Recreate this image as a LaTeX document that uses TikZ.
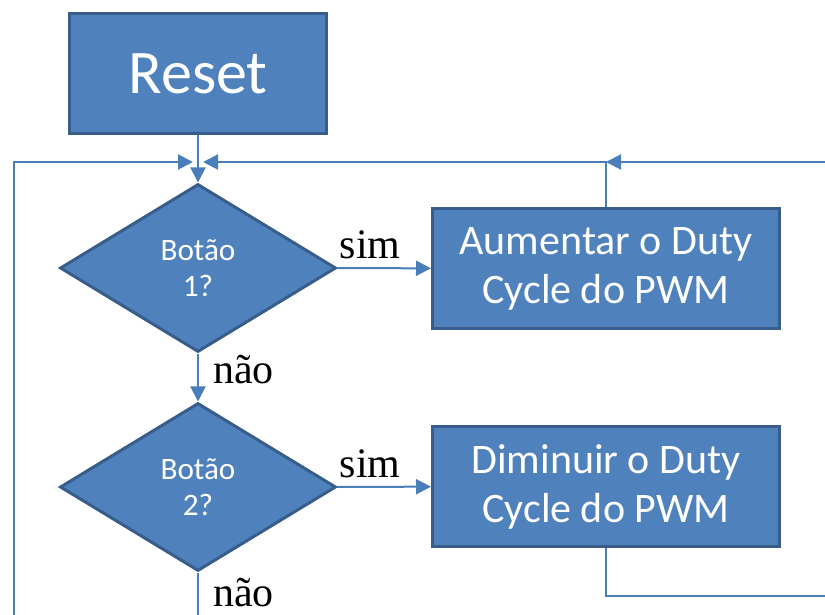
\documentclass[tikz,border=0pt]{standalone}
\usepackage{fontspec}
\setmainfont{Liberation Serif}
\newfontfamily\calib{Carlito}
\usetikzlibrary{shapes.geometric, arrows.meta}

\definecolor{boxfill}{HTML}{4F81BD}
\definecolor{boxline}{HTML}{385D8A}
\definecolor{flowline}{HTML}{4A7EBB}

\begin{document}
\begin{tikzpicture}[x=0.5pt, y=-0.5pt,
    block/.style={rectangle, draw=boxline, fill=boxfill, line width=1.5pt, text=white,
        minimum width=128pt, minimum height=60pt, align=center, inner sep=0pt},
    decision/.style={diamond, draw=boxline, fill=boxfill, line width=1.5pt, text=white,
        minimum width=138pt, minimum height=84pt, align=center, inner sep=0pt,
        font=\calib\fontsize{15.6}{18}\selectfont},
    flow/.style={draw=flowline, line width=1pt, -{Triangle[length=7.5pt,width=7.5pt]}},
    link/.style={draw=flowline, line width=1pt},
    answer/.style={font=\fontsize{21}{25}\selectfont, inner sep=0pt}]
    \useasboundingbox (0,0) rectangle (825,615);

    % Draw nodes
    \node[block, minimum width=128.5pt, font=\calib\fontsize{31}{36}\selectfont] (reset) at (198,73.5) {Reset};
    \node[decision] (b1) at (198,268) {Botão\\1?};
    \node[decision] (b2) at (198,487) {Botão\\2?};
    \node[block, minimum width=173.5pt, font=\calib\fontsize{21}{24.5}\selectfont] (up) at (606,268.5) {Aumentar o Duty\\Cycle do PWM};
    \node[block, minimum width=173.5pt, font=\calib\fontsize{21}{24.5}\selectfont] (down) at (606,486.5) {Diminuir o Duty\\Cycle do PWM};

    % Loose ends of the loops
    \coordinate (jl) at (193,162);
    \coordinate (jr) at (203,162);
    \coordinate (lb) at (14,615);
    \coordinate (rt) at (825,162);
    \coordinate (rb) at (825,596);
    \coordinate (db) at (198,615);

    % Draw connections
    \draw[flow] (reset) -- (b1);
    \draw[flow] (b1) -- (up) node[answer, pos=0.35, above=4pt] {sim};
    \draw[flow] (b1) -- (b2) node[answer, pos=0.34, right=7pt] {não};
    \draw[flow] (b2) -- (down) node[answer, pos=0.35, above=4pt] {sim};
    \draw[link] (b2) -- (db) node[answer, pos=0.47, right=7pt] {não};

    % Loops back to the first test
    \draw[flow] (lb) |- (jl);
    \draw[flow] (up) |- (jr);
    \draw[flow] (rt) -- (up.north |- rt);
    \draw[link] (down) |- (rb);
\end{tikzpicture}
\end{document}
